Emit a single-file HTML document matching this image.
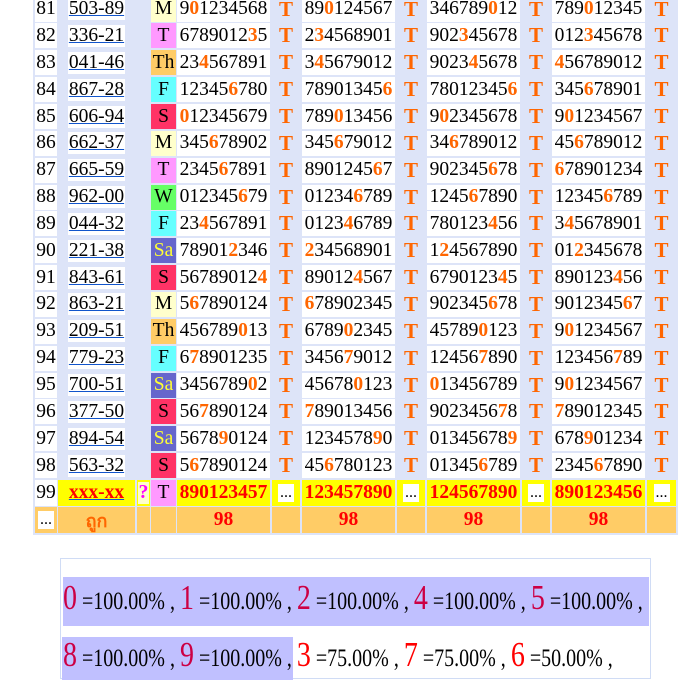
<!DOCTYPE html>
<html><head><meta charset="utf-8">
<style>
body{margin:0;width:691px;height:697px;background:#fff;position:relative;overflow:hidden;font-family:"Liberation Serif",serif;}
.c{position:absolute;box-sizing:border-box;display:flex;align-items:center;justify-content:center;font-size:19.5px;color:#000;white-space:nowrap;}
.w{background:#fff}
.code{background:#fff;padding:0 1px;text-decoration:underline;text-decoration-color:#1155cc;}
.T{color:#ff6600;font-weight:bold;font-size:21px}
.o{color:#ff6600;font-weight:bold}
#tbl{position:absolute;left:33px;top:0;width:645px;height:535px;background:#dde4f8}
#legend{position:absolute;left:60px;top:558px;width:591px;height:121px;border:1px solid #d0dcf5;box-sizing:border-box}
.band{position:absolute;background:#c0c0ff}
.line{position:absolute;left:63px;font-size:20px;white-space:nowrap;transform:scaleY(1.25);transform-origin:0 100%}
.big{font-size:28px;color:#cc0044}
.red{font-size:28px;color:#ff0000}
</style></head>
<body>
<div id="tbl"></div>
<div id="legend"></div>
<div class="band" style="left:63px;top:577px;width:586px;height:49px"></div>
<div class="band" style="left:62px;top:637px;width:231px;height:43px"></div>
<div class="line" style="top:587px"><span class="big">0</span> =100.00% , <span class="big">1</span> =100.00% , <span class="big">2</span> =100.00% , <span class="big">4</span> =100.00% , <span class="big">5</span> =100.00% ,</div>
<div class="line" style="top:644px"><span class="big">8</span> =100.00% , <span class="big">9</span> =100.00% , <span class="red">3</span> =75.00% , <span class="red">7</span> =75.00% , <span class="red">6</span> =50.00% ,</div>
<script>
const rowNums=[81,82,83,84,85,86,87,88,89,90,91,92,93,94,95,96,97,98];
const codes=["503-89","336-21","041-46","867-28","606-94","662-37","665-59","962-00","044-32","221-38","843-61","863-21","209-51","779-23","700-51","377-50","894-54","563-32"];
const days=["M","T","Th","F","S","M","T","W","F","Sa","S","M","Th","F","Sa","S","Sa","S"];
const hiDigits=["0","3","4","6","0","6","6","6","4","2","4","6","0","7","0","7","9","6"];
const col1=["901234568","678901235","234567891","123456780","012345679","345678902","234567891","012345679","234567891","789012346","567890124","567890124","456789013","678901235","345678902","567890124","567890124","567890124"];
const col2=["890124567","234568901","345679012","789013456","789013456","345679012","890124567","012346789","012346789","234568901","890124567","678902345","678902345","345679012","456780123","789013456","123457890","456780123"];
const col3=["346789012","902345678","902345678","780123456","902345678","346789012","902345678","124567890","780123456","124567890","679012345","902345678","457890123","124567890","013456789","902345678","013456789","013456789"];
const col4=["789012345","012345678","456789012","345678901","901234567","456789012","678901234","123456789","345678901","012345678","890123456","901234567","901234567","123456789","901234567","789012345","678901234","234567890"];
const nextRow=["99","xxx-xx","T","890123457","123457890","124567890","890123456"];
const footer=["ถูก","98","98","98","98"];
const dayColors={M:"#ffffcc",T:"#ff99ff",Th:"#ffcc66",F:"#66ffff",S:"#ff3366",W:"#66ff66",Sa:"#6666cc"};
const cols={num:[35,22],code:[58,77],q:[137,13],day:[151,25],n:[[177,93],[302,93],[427,93],[552,93]],t:[[272,28],[397,28],[522,28],[647,29]]};
const body=document.body;
function cell(x,y,w,h,bg,html,name,cls){
  const d=document.createElement('div');
  d.className='c '+(cls||'');
  d.style.left=x+'px';d.style.top=y+'px';d.style.width=w+'px';d.style.height=h+'px';
  if(bg)d.style.background=bg;
  d.innerHTML=html;
  
  
  body.appendChild(d);return d;
}
function hl(s,dg){const i=s.indexOf(dg);if(i<0)return s;return s.slice(0,i)+'<span class="o">'+dg+'</span>'+s.slice(i+1);}
const pitch=26.85, top0=-3.4, rh=25;
rowNums.forEach((n,i)=>{
  const y=top0+i*pitch;
  cell(cols.num[0],y,cols.num[1],rh,'#fff',n,'row-number');
  const c=cell(cols.code[0],y,cols.code[1],rh,null,'<span class="code">'+codes[i]+'</span>','draw-code-link');
  
  const d=cell(cols.day[0],y,cols.day[1],rh,dayColors[days[i]],days[i],'day-label');
  if(days[i]==='Sa')d.style.color='#ffff33';
  [col1,col2,col3,col4].forEach((arr,k)=>{
    cell(cols.n[k][0],y,cols.n[k][1],rh,'#fff',hl(arr[i],hiDigits[i]),'number-set-'+(k+1));
    cell(cols.t[k][0],y,cols.t[k][1],rh,null,'T','result-mark','T');
  });
});
const y99=480,h99=26;
cell(cols.num[0],y99,cols.num[1],h99,'#fff',nextRow[0],'row-number');
const cx=cell(cols.code[0],y99,cols.code[1],h99,'#ffff00','<span style="color:#ff0000;font-weight:bold;text-decoration:underline;text-decoration-color:#1155cc">'+nextRow[1]+'</span>','next-draw-code');

cell(cols.q[0],y99,cols.q[1],h99,'#ffff00','<span style="background:#ffffcc;color:#ff00ff;font-weight:bold;padding:0 1px">?</span>','unknown-mark');
cell(cols.day[0],y99,cols.day[1],h99,'#ff99ff',nextRow[2],'day-label');
for(let k=0;k<4;k++){
  cell(cols.n[k][0],y99,cols.n[k][1],h99,'#ffff00','<b style="color:#ff0000">'+nextRow[3+k]+'</b>','predicted-set-'+(k+1));
  cell(cols.t[k][0],y99,cols.t[k][1],h99,'#ffff00','<span style="background:#fff;padding:0 2px;font-size:16px">...</span>','pending-mark');
}
const yf=507,hf=26,fb='#ffcc66';
cell(cols.num[0],yf,cols.num[1],hf,fb,'<span style="background:#fff;padding:0 2px;font-size:16px">...</span>','footer-more');
cell(cols.code[0],yf,cols.code[1],hf,fb,'<b style="color:#ff6600;font-family:\'Liberation Sans\',\'Noto Sans CJK SC\',sans-serif;font-size:18px">'+footer[0]+'</b>','correct-label');
cell(cols.q[0],yf,cols.q[1],hf,fb,'','footer-blank');
cell(cols.day[0],yf,cols.day[1],hf,fb,'','footer-blank');
for(let k=0;k<4;k++){
  cell(cols.n[k][0],yf,cols.n[k][1],hf,fb,'<b style="color:#ff0000">'+footer[1+k]+'</b>','correct-count-'+(k+1));
  cell(cols.t[k][0],yf,cols.t[k][1],hf,fb,'','footer-blank');
}
</script>
</body></html>
